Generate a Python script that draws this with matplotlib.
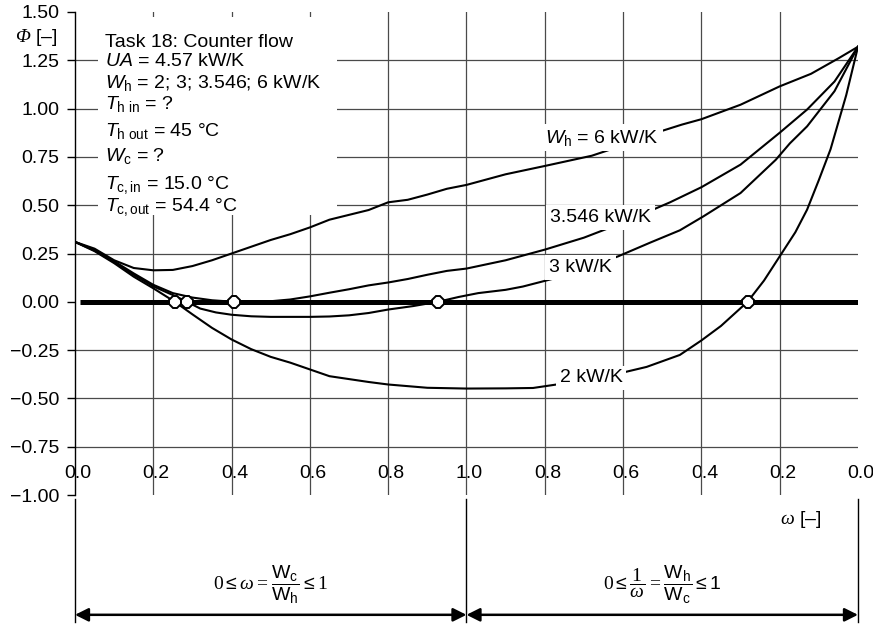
import numpy as np
import matplotlib
matplotlib.use("Agg")
import matplotlib.pyplot as plt
from matplotlib import transforms
from matplotlib.patches import Rectangle

# ---------------- data ----------------
# composite abscissa "u": 0..1 -> omega = Wc/Wh ; 1..2 -> 2 - 1/omega (1/omega = Wh/Wc running 1 -> 0)
u_6 = [0.00, 0.05, 0.10, 0.15, 0.20, 0.25, 0.30, 0.35, 0.40, 0.45, 0.50, 0.55, 0.60, 0.65,
       0.70, 0.75, 0.80, 0.85, 0.90, 0.95, 1.00, 1.10, 1.20, 1.32, 1.40, 1.50, 1.55, 1.60,
       1.70, 1.80, 1.88, 1.95, 2.00]
phi_6 = [0.310, 0.275, 0.215, 0.175, 0.163, 0.165, 0.185, 0.215, 0.250, 0.285, 0.320, 0.350,
         0.385, 0.425, 0.450, 0.475, 0.515, 0.528, 0.555, 0.585, 0.605, 0.660, 0.703, 0.756,
         0.810, 0.885, 0.917, 0.945, 1.020, 1.115, 1.180, 1.260, 1.320]

u_3546 = [0.00, 0.05, 0.10, 0.15, 0.20, 0.25, 0.30, 0.35, 0.406, 0.45, 0.50, 0.55, 0.60, 0.65,
          0.70, 0.75, 0.80, 0.85, 0.90, 0.95, 1.00, 1.10, 1.20, 1.30, 1.40, 1.52, 1.60, 1.70,
          1.80, 1.87, 1.94, 2.00]
phi_3546 = [0.310, 0.268, 0.210, 0.147, 0.088, 0.045, 0.022, 0.008, 0.000, 0.000, 0.003, 0.012,
            0.028, 0.047, 0.065, 0.085, 0.100, 0.118, 0.140, 0.160, 0.172, 0.215, 0.270, 0.332,
            0.410, 0.515, 0.593, 0.710, 0.875, 0.995, 1.140, 1.320]

u_3 = [0.00, 0.05, 0.10, 0.15, 0.20, 0.25, 0.286, 0.32, 0.36, 0.40, 0.45, 0.50, 0.60, 0.65,
       0.70, 0.75, 0.80, 0.864, 0.927, 0.98, 1.03, 1.10, 1.144, 1.23, 1.30, 1.387, 1.47, 1.545,
       1.605, 1.70, 1.79, 1.826, 1.87, 1.94, 2.00]
phi_3 = [0.310, 0.265, 0.205, 0.140, 0.080, 0.035, 0.000, -0.035, -0.055, -0.067, -0.075,
         -0.078, -0.078, -0.076, -0.070, -0.058, -0.040, -0.022, 0.000, 0.025, 0.045, 0.062,
         0.079, 0.124, 0.170, 0.235, 0.307, 0.370, 0.442, 0.563, 0.735, 0.820, 0.908, 1.090,
         1.320]

u_2 = [0.00, 0.05, 0.10, 0.15, 0.20, 0.255, 0.30, 0.35, 0.40, 0.45, 0.50, 0.55, 0.60, 0.65,
       0.70, 0.75, 0.80, 0.90, 1.00, 1.10, 1.17, 1.24, 1.35, 1.46, 1.545, 1.60, 1.65, 1.718,
       1.76, 1.80, 1.84, 1.87, 1.90, 1.93, 1.97, 2.00]
phi_2 = [0.310, 0.262, 0.200, 0.130, 0.070, 0.000, -0.065, -0.135, -0.195, -0.245, -0.285,
         -0.315, -0.350, -0.385, -0.400, -0.415, -0.428, -0.445, -0.449, -0.448, -0.446,
         -0.425, -0.390, -0.337, -0.275, -0.200, -0.125, 0.000, 0.110, 0.235, 0.360, 0.477,
         0.630, 0.790, 1.070, 1.320]

# zero crossings (u-scale)
crossing_u = [0.255, 0.286, 0.406, 0.927, 1.718]
crossing_phi = [0.0, 0.0, 0.0, 0.0, 0.0]

omega_ticks_left = [0.0, 0.2, 0.4, 0.6, 0.8, 1.0]
inv_omega_ticks_right = [0.8, 0.6, 0.4, 0.2, 0.0]
xtick_labels = ["0.0", "0.2", "0.4", "0.6", "0.8", "1.0", "0.8", "0.6", "0.4", "0.2", "0.0"]
ytick_values = [-1.00, -0.75, -0.50, -0.25, 0.00, 0.25, 0.50, 0.75, 1.00, 1.25, 1.50]

info_lines = [
    "Task 18: Counter flow",
    r"$\mathit{UA}$ = 4.57 kW/K",
    r"$W_\mathrm{h}$ = 2; 3; 3.546; 6 kW/K",
    r"$T_\mathrm{h\ in}$ = ?",
    r"$T_\mathrm{h\ out}$ = 45 °C",
    r"$W_\mathrm{c}$ = ?",
    r"$T_\mathrm{c,in}$ = 15.0 °C",
    r"$T_\mathrm{c,out}$ = 54.4 °C",
]
curve_labels = [r"$W_\mathrm{h}$ = 6 kW/K", "3.546 kW/K", "3 kW/K", "2 kW/K"]

# ---------------- style ----------------
plt.rcParams["font.family"] = ["Liberation Sans", "DejaVu Sans"]
plt.rcParams["mathtext.fontset"] = "custom"
plt.rcParams["mathtext.rm"] = "Liberation Sans"
plt.rcParams["mathtext.it"] = "Liberation Sans:italic"
plt.rcParams["mathtext.sf"] = "Liberation Sans"
# serif faces used for the Greek symbols and the numbers of the range formulas
plt.rcParams["mathtext.cal"] = "Liberation Serif:italic"
plt.rcParams["mathtext.bf"] = "Liberation Serif"

FS = 14
GRID = "#4a4a4a"

fig = plt.figure(figsize=(8.73, 6.24), dpi=100)
ax = fig.add_axes([0.0859, 0.2067, 0.8969, 0.7741])
ax.set_xlim(0, 2)
ax.set_ylim(-1.0, 1.5)
for s in ["top", "right", "bottom"]:
    ax.spines[s].set_visible(False)
ax.spines["left"].set_linewidth(1.0)
ax.spines["left"].set_zorder(3)
ax.set_xticks([])
ax.set_yticks(ytick_values)
ax.set_yticklabels([f"{v:.2f}".replace("-", "\u2212") for v in ytick_values], fontsize=FS)
ax.tick_params(axis="y", direction="out", length=6, width=1, pad=5)

# grid
for v in ytick_values:
    if v in (-1.0, 0.0, 1.5):
        continue
    ax.axhline(v, color=GRID, lw=0.9, zorder=1)
xgrid = omega_ticks_left + [2 - t for t in inv_omega_ticks_right]
for x in xgrid:
    if 0 < x < 2:
        ax.axvline(x, color=GRID, lw=0.9, zorder=1)

# white background of the task text block
ax.add_patch(Rectangle((0.059, 0.451), 0.61, 1.025, facecolor="white",
                       edgecolor="none", zorder=2))

# thick zero line
ax.axhline(0, xmin=0.007, xmax=1.0, color="black", lw=3.6, zorder=3,
           solid_capstyle="butt")

# curves
for u, p in [(u_6, phi_6), (u_3546, phi_3546), (u_3, phi_3), (u_2, phi_2)]:
    ax.plot(u, p, color="black", lw=1.5, zorder=3.2, solid_joinstyle="round")

ax.plot(crossing_u, crossing_phi, ls="none", marker="8", ms=9, mfc="white",
        mec="black", mew=1.4, zorder=6)

# curve labels
label_pos = [(1.346, 0.85), (1.343, 0.435), (1.292, 0.176), (1.318, -0.394)]
for lab, (x, y) in zip(curve_labels, label_pos):
    ax.text(x, y, lab, ha="center", va="center", fontsize=FS, zorder=5,
            bbox=dict(boxstyle="square,pad=0.2", fc="white", ec="none"))

# task text block
info_y = [1.321, 1.223, 1.109, 1.000, 0.860, 0.731, 0.585, 0.472]
for txt, y in zip(info_lines, info_y):
    ax.text(0.077, y, txt, ha="left", va="baseline", fontsize=FS, zorder=5)

# x tick labels (inside the plot area, crossed by the grid lines)
off = transforms.offset_copy(ax.transData, fig=fig, x=3, y=0, units="dots")
for x, lab in zip(xgrid, xtick_labels):
    ax.text(x, -0.89, lab, ha="center", va="center", fontsize=FS, transform=off,
            zorder=0.5)

# axis labels
fig.text(15 / 873, 1 - 37 / 624, r"$\mathcal{\Phi}$ [–]",
         ha="left", va="center", fontsize=FS)
fig.text(801 / 873, 1 - 520 / 624, r"$\mathcal{\omega}$ [–]",
         ha="center", va="center", fontsize=FS)

# bottom range annotation
xax = ax.get_xaxis_transform()
for x in [0.0, 1.0, 2.0]:
    ax.axvline(x, ymin=-0.263, ymax=-0.008, color="black", lw=1.0, clip_on=False)
for a, b in [(0.0, 1.0), (1.0, 2.0)]:
    ax.annotate("", xy=(a, -0.248), xytext=(b, -0.248), xycoords=xax, textcoords=xax,
                annotation_clip=False,
                arrowprops=dict(arrowstyle="<|-|>", lw=1.8, color="black",
                                mutation_scale=20, shrinkA=0, shrinkB=0))

ax.text(0.5, -0.186,
        r"$\mathbf{0} \leq \mathcal{\omega} \mathbf{=} "
        r"\dfrac{\mathrm{W}_\mathrm{c}}{\mathrm{W}_\mathrm{h}} \leq \mathbf{1}$",
        transform=xax, ha="center", va="center", fontsize=FS)
ax.text(1.5, -0.186,
        r"$\mathbf{0} \leq \dfrac{\mathbf{1}}{\mathcal{\omega}} \mathbf{=} "
        r"\dfrac{\mathrm{W}_\mathrm{h}}{\mathrm{W}_\mathrm{c}} \leq 1$",
        transform=xax, ha="center", va="center", fontsize=FS)

fig.savefig("out.png", dpi=100)
